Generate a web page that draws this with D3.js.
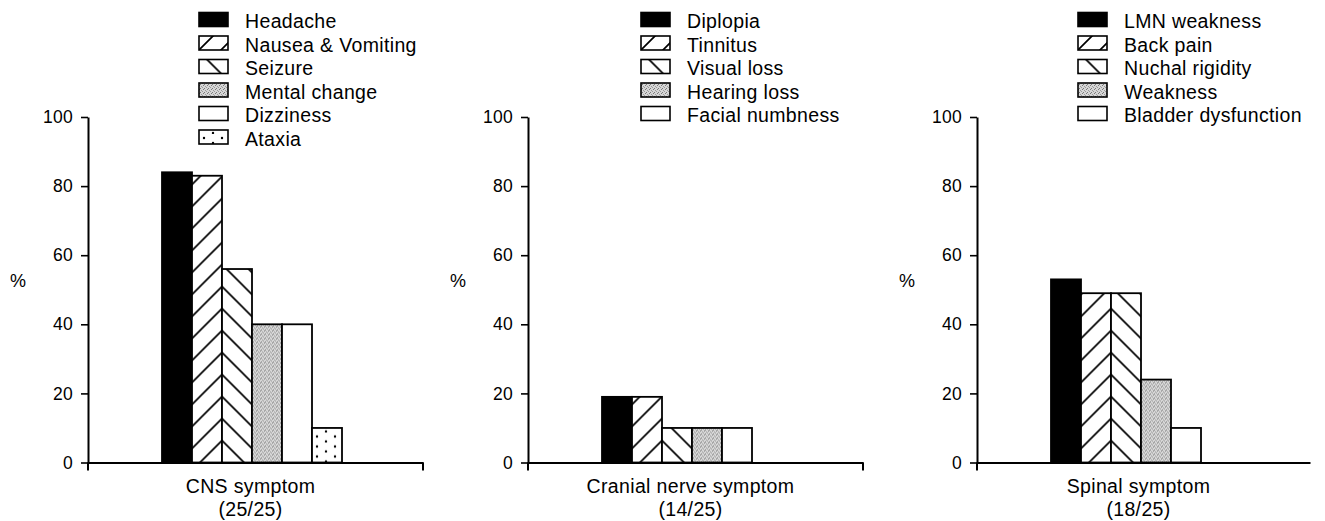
<!DOCTYPE html>
<html>
<head>
<meta charset="utf-8">
<script src="https://cdn.jsdelivr.net/npm/d3@7/dist/d3.min.js"></script>
<style>
  html, body { margin: 0; padding: 0; background: #fff; }
  svg { display: block; }
  text { font-family: "Liberation Sans", Arial, Helvetica, sans-serif; fill: #000; }
</style>
</head>
<body>
<svg id="chart" width="1325" height="521"></svg>
<script>
// ---------- data ----------
const panelTitles = ["CNS symptom", "Cranial nerve symptom", "Spinal symptom"];
const panelCounts = ["(25/25)", "(14/25)", "(18/25)"];

const cnsSymptoms = ["Headache", "Nausea & Vomiting", "Seizure", "Mental change", "Dizziness", "Ataxia"];
const cnsValues = [84, 83, 56, 40, 40, 10];

const cranialSymptoms = ["Diplopia", "Tinnitus", "Visual loss", "Hearing loss", "Facial numbness"];
const cranialValues = [19, 19, 10, 10, 10];

const spinalSymptoms = ["LMN weakness", "Back pain", "Nuchal rigidity", "Weakness", "Bladder dysfunction"];
const spinalValues = [53, 49, 49, 24, 10];

const yTicks = [0, 20, 40, 60, 80, 100];
const yLabel = "%";
// fill style of the n-th series in each panel
const fillKinds = ["solid", "fwd", "back", "stipple", "blank", "dots"];

// ---------- layout ----------
const panels = [
  { symptoms: cnsSymptoms, values: cnsValues, axisX: 88, axisEnd: 423, endTick: true, legendX: 199 },
  { symptoms: cranialSymptoms, values: cranialValues, axisX: 528, axisEnd: 863, endTick: true, legendX: 641 },
  { symptoms: spinalSymptoms, values: spinalValues, axisX: 977, axisEnd: 1310, endTick: false, legendX: 1078 }
];
const yTop = 117, yBase = 462.5;
const barOffset = 74, barW = 30;
const hatch = 22;

const svg = d3.select("#chart");
const defs = svg.append("defs");

function makePattern(id, kind, ox, oy) {
  if (kind === "solid" || kind === "blank") return null;
  let p;
  if (kind === "fwd" || kind === "back") {
    p = defs.append("pattern").attr("id", id).attr("patternUnits", "userSpaceOnUse")
      .attr("x", ox).attr("y", oy).attr("width", hatch).attr("height", hatch);
    p.append("rect").attr("width", hatch).attr("height", hatch).attr("fill", "#fff");
    const h = hatch;
    const d = kind === "fwd"
      ? `M0,${h} L${h},0 M-3,3 L3,-3 M${h - 3},${h + 3} L${h + 3},${h - 3}`
      : `M0,0 L${h},${h} M-3,${h - 3} L3,${h + 3} M${h - 3},-3 L${h + 3},3`;
    p.append("path").attr("d", d).attr("stroke", "#000").attr("stroke-width", 1.7).attr("fill", "none");
  } else if (kind === "stipple") {
    p = defs.append("pattern").attr("id", id).attr("patternUnits", "userSpaceOnUse")
      .attr("x", ox).attr("y", oy).attr("width", 4).attr("height", 4);
    p.append("rect").attr("width", 4).attr("height", 4).attr("fill", "#d6d6d6");
    [[0, 0], [2, 1], [1, 3], [3, 2]].forEach(([a, b], i) => {
      p.append("rect").attr("x", a).attr("y", b).attr("width", 1).attr("height", 1)
        .attr("fill", i % 2 ? "#9a9a9a" : "#7a7a7a");
    });
  } else if (kind === "dots") {
    p = defs.append("pattern").attr("id", id).attr("patternUnits", "userSpaceOnUse")
      .attr("x", ox).attr("y", oy).attr("width", 18).attr("height", 10);
    p.append("rect").attr("width", 18).attr("height", 10).attr("fill", "#fff");
    p.append("circle").attr("cx", 5).attr("cy", 4).attr("r", 1.2).attr("fill", "#000");
    p.append("circle").attr("cx", 14).attr("cy", 9).attr("r", 1.2).attr("fill", "#000");
  }
  return `url(#${id})`;
}
function fillFor(kind, id, ox, oy) {
  if (kind === "solid") return "#000";
  if (kind === "blank") return "#fff";
  return makePattern(id, kind, ox, oy);
}

const y = d3.scaleLinear().domain([0, 100]).range([yBase, yTop]);

panels.forEach((P, pi) => {
  const g = svg.append("g");
  const n = P.symptoms.length;
  const x = d3.scaleBand().domain(P.symptoms)
    .range([P.axisX + barOffset, P.axisX + barOffset + barW * n]).padding(0);
  const xb = x(P.symptoms[2]);   // boundary where the two hatchings meet

  // bars
  g.selectAll("rect.bar").data(P.symptoms).join("rect")
    .attr("class", "bar")
    .attr("x", d => x(d))
    .attr("y", (d, i) => y(P.values[i]))
    .attr("width", x.bandwidth())
    .attr("height", (d, i) => y(0) - y(P.values[i]))
    .attr("fill", (d, i) => {
      const k = fillKinds[i];
      const ox = (k === "fwd" || k === "back") ? xb : x(d);
      return fillFor(k, `p${pi}b${i}`, ox, y(0));
    })
    .attr("stroke", "#000").attr("stroke-width", 1.8);

  // y axis
  const yAxis = d3.axisLeft(y).tickValues(yTicks).tickSize(7).tickSizeOuter(0).tickPadding(8);
  const ya = g.append("g").attr("transform", `translate(${P.axisX},0)`).call(yAxis);
  ya.select(".domain").attr("stroke-width", 2);
  ya.selectAll(".tick line").attr("stroke-width", 1.6);
  ya.selectAll(".tick text").attr("font-size", 17.5).attr("letter-spacing", 0.3)
    .attr("font-family", "Liberation Sans, Arial, sans-serif").attr("fill", "#000");

  // x axis (baseline) with end ticks
  const xLine = d3.scaleLinear().domain([0, 1]).range([P.axisX, P.axisEnd]);
  const xa = g.append("g").attr("transform", `translate(0,${y(0)})`)
    .call(d3.axisBottom(xLine).tickValues([]).tickSizeOuter(0));
  xa.select(".domain").attr("stroke-width", 2);
  const ends = P.endTick ? [0, 1] : [0];
  xa.selectAll("line.end").data(ends).join("line").attr("class", "end")
    .attr("x1", d => xLine(d)).attr("x2", d => xLine(d))
    .attr("y1", 0).attr("y2", 8).attr("stroke", "#000").attr("stroke-width", 2);

  // % label
  g.append("text").attr("x", P.axisX - 78).attr("y", 287)
    .attr("font-size", 18).text(yLabel);

  // category label
  const cx = (P.axisX + P.axisEnd) / 2 - 5;
  g.append("text").attr("x", cx).attr("y", 493).attr("text-anchor", "middle")
    .attr("font-size", 19.5).attr("letter-spacing", 0.35).text(panelTitles[pi]);
  g.append("text").attr("x", cx).attr("y", 516).attr("text-anchor", "middle")
    .attr("font-size", 19.5).attr("letter-spacing", 0.35).text(panelCounts[pi]);

  // legend
  const lg = g.append("g");
  P.symptoms.forEach((s, i) => {
    const top = 12.5 + i * 23.5;
    const k = fillKinds[i];
    lg.append("rect").attr("x", P.legendX).attr("y", top).attr("width", 29).attr("height", 14)
      .attr("fill", fillFor(k, `l${pi}s${i}`, P.legendX, top + 14))
      .attr("stroke", "#000").attr("stroke-width", 1.6);
    lg.append("text").attr("x", P.legendX + 46).attr("y", top + 15.5)
      .attr("font-size", 19.5).attr("letter-spacing", 0.35).text(s);
  });
});
</script>
</body>
</html>
